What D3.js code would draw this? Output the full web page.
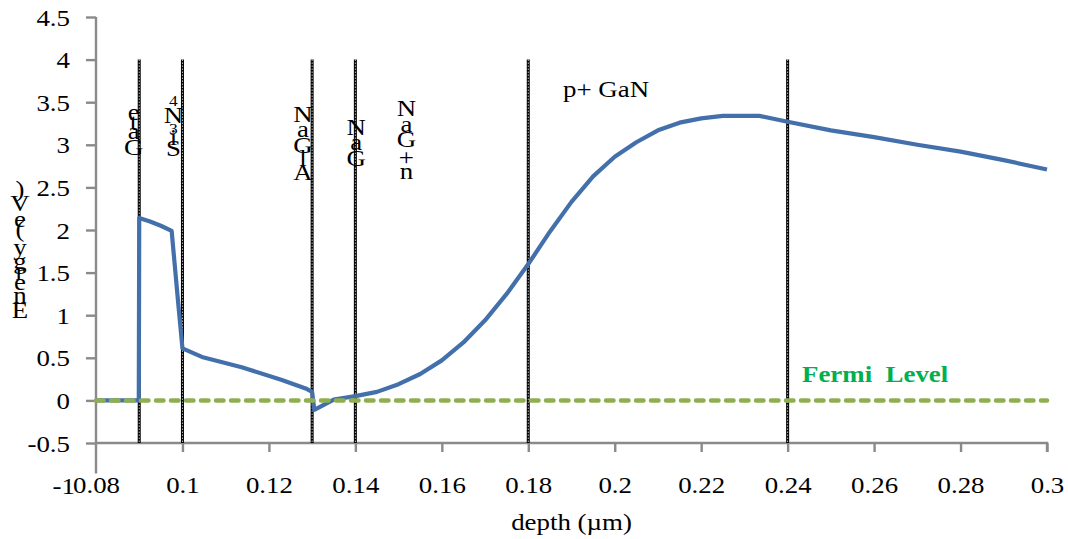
<!DOCTYPE html>
<html><head><meta charset="utf-8">
<script src="https://cdn.jsdelivr.net/npm/d3@7"></script>
<style>body{margin:0;background:#fff}svg{display:block}</style>
</head><body>
<svg id="c" width="1068" height="539"></svg>
<script>
// ---- data ----
const depth = [0.08,0.085,0.0899,0.09,0.0925,0.095,0.0975,0.099,0.1,0.1045,0.1137,0.123,0.1285,0.13,0.1305,0.135,0.14,0.145,0.15,0.155,0.16,0.165,0.17,0.175,0.18,0.185,0.19,0.195,0.2,0.205,0.21,0.215,0.22,0.225,0.23,0.2335,0.24,0.25,0.26,0.27,0.28,0.29,0.3];
const energy = [0,0,0,2.14,2.1,2.05,1.99,1.15,0.61,0.51,0.39,0.24,0.14,0.1,-0.11,0.01,0.05,0.1,0.19,0.31,0.47,0.68,0.94,1.25,1.6,1.98,2.33,2.63,2.86,3.03,3.17,3.26,3.31,3.34,3.34,3.34,3.27,3.17,3.09,3.0,2.92,2.82,2.71];
const fermiDepth = [0.08,0.3];
const fermi = [0,0];
const boundaries = [0.09,0.1,0.13,0.14,0.18,0.24];
const layerLabels = ["Gate","Si3N4","AlGaN","GaN","n+GaN"];
const layerLabelDepth = [0.0887,0.0979,0.1279,0.1402,0.1518];
const pLabel = "p+ GaN";
const xTicks = [0.08,0.1,0.12,0.14,0.16,0.18,0.2,0.22,0.24,0.26,0.28,0.3];
const yTicks = [-1,-0.5,0,0.5,1,1.5,2,2.5,3,3.5,4,4.5];
const yTitle = "Energy (eV)";
const xTitle = "depth (µm)";
const fermiLabel = "Fermi  Level";

// ---- drawing ----
const svg = d3.select("#c");
const x = d3.scaleLinear().domain([0.08,0.3]).range([96,1047]);
const y = d3.scaleLinear().domain([-1,4.5]).range([485.6,17]);
const FONT = "Liberation Serif";
const FS = 24, SX = 1.12;
const axisColor = "#8a8a8a";
const fmt = d => String(d);

function sText(parent, tx, ty, str, anchor, opts={}){
  const g = parent.append("g").attr("transform",`translate(${tx},${ty}) scale(${SX},1)`);
  const t = g.append("text").attr("x",0).attr("y",0).attr("text-anchor",anchor)
    .style("font-family",FONT).attr("font-size",opts.size||FS).attr("fill",opts.fill||"#000")
    .attr("font-weight",opts.weight||"normal").attr("xml:space","preserve").text(str);
  if(opts.dy) t.attr("dy",opts.dy);
  return t;
}

// y axis
const yAxis = svg.append("g").attr("transform",`translate(${x(0.08)},0)`)
  .call(d3.axisLeft(y).tickValues(yTicks).tickSize(10).tickFormat(fmt));
yAxis.select(".domain").attr("stroke",axisColor).attr("stroke-width",2.4).attr("d",`M0,${y(-1)-12}V${y(4.5)}`);
yAxis.selectAll(".tick line").attr("stroke",axisColor).attr("stroke-width",2.4);
yAxis.selectAll(".tick").filter(d=>d===-1).select("line").remove();
yAxis.selectAll(".tick text").remove();
yAxis.selectAll(".tick").each(function(d){
  sText(d3.select(this), d===-1?-21:-26, 0, fmt(d), "end", {dy:"0.34em"});
});

// x axis at y=-0.5
const xAxis = svg.append("g").attr("transform",`translate(0,${y(-0.5)})`)
  .call(d3.axisBottom(x).tickValues(xTicks).tickSize(9).tickFormat(fmt));
xAxis.select(".domain").attr("stroke",axisColor).attr("stroke-width",2.4).attr("d",`M${x(0.08)},0H${x(0.3)}V9`);
xAxis.selectAll(".tick line").attr("stroke",axisColor).attr("stroke-width",2.4);
xAxis.selectAll(".tick").filter(d=>d===0.08).select("line").remove();
xAxis.selectAll(".tick text").remove();
xAxis.selectAll(".tick").each(function(d){
  sText(d3.select(this), 0, 50, fmt(d), "middle");
});

// boundary lines
const bl = svg.append("g");
boundaries.forEach(b=>{
  bl.append("line").attr("x1",x(b)).attr("x2",x(b)).attr("y1",y(4)).attr("y2",y(-0.5))
    .attr("stroke","#000").attr("stroke-width",3);
  bl.append("line").attr("x1",x(b)).attr("x2",x(b)).attr("y1",y(4)).attr("y2",y(-0.5))
    .attr("stroke","#fff").attr("stroke-width",0.9).attr("stroke-dasharray","1.2 1.8");
});

// energy curve and Fermi line
const line = d3.line().x(d=>x(d[0])).y(d=>y(d[1]));
svg.append("path").datum(d3.zip(depth,energy)).attr("fill","none").attr("stroke","#4370ab")
  .attr("stroke-width",4.2).attr("stroke-linejoin","round").attr("d",line);
svg.append("path").datum(d3.zip(fermiDepth,fermi)).attr("fill","none").attr("stroke","#8fae50")
  .attr("stroke-width",4.5).attr("stroke-dasharray","7.5 7.5").attr("stroke-linecap","round")
  .attr("d",line);

sText(svg, 802, 382, fermiLabel, "start", {weight:"bold", fill:"#00b050"});

// stacked vertical labels: upright letters stacked bottom to top by advance width
const meas = svg.append("text").style("font-family",FONT).attr("font-size",FS).attr("opacity",0);
function adv(ch,size){ meas.attr("font-size",size).text(ch==" "?"\u00a0":ch); return meas.node().getComputedTextLength(); }
function stacked(str, cx, bottomCenterY){
  const chars=[...str];
  let prevW=null, cy=bottomCenterY;
  chars.forEach(ch=>{
    const small=/[0-9]/.test(ch);
    const size= small?FS*0.65:FS;
    const w=adv(ch,size);
    if(prevW!==null) cy -= (prevW+w)/2*SX;
    prevW=w;
    if(ch!==" ") sText(svg, cx, cy, ch, "middle", {size:size, dy:small?"0.35em":"0.33em"});
  });
}
const bottomCenters = [147,148,172,158,171];
layerLabels.forEach((t,i)=>stacked(t, x(layerLabelDepth[i]), bottomCenters[i]));
stacked(yTitle, 20, 310);
meas.remove();

sText(svg, 563, 97, pLabel, "start");
sText(svg, (x(0.08)+x(0.3))/2, 530, xTitle, "middle");
</script>
</body></html>
